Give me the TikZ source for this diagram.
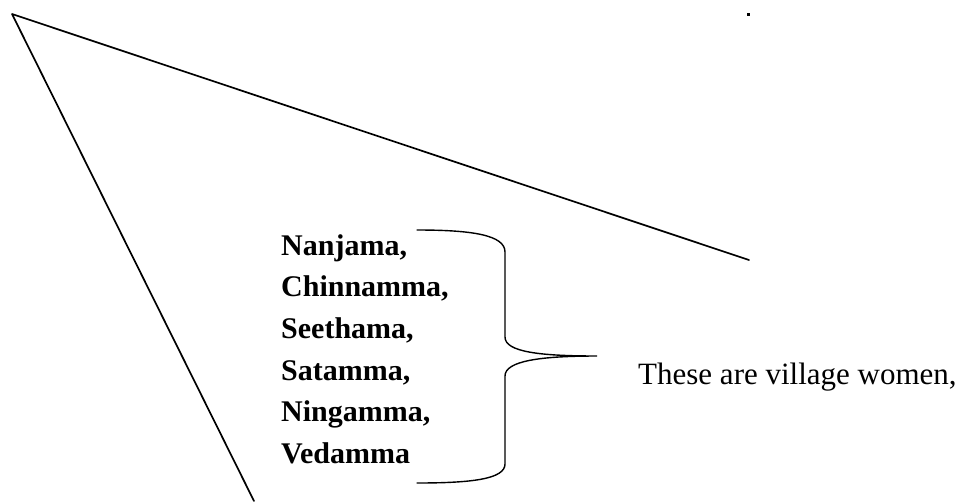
\documentclass[tikz,border=0pt]{standalone}
\usepackage{fontspec}
\setmainfont{Liberation Serif}
\begin{document}
\begin{tikzpicture}[x=1pt,y=-1pt,
  edge/.style={line width=1.7pt,line cap=round,line join=round},
  bracepath/.style={line width=1.4pt,line cap=round},
  namelabel/.style={anchor=base west,inner sep=0pt,font=\fontsize{30}{36}\selectfont\bfseries},
  notelabel/.style={anchor=base west,inner sep=0pt,font=\fontsize{31}{36}\selectfont}]
  \useasboundingbox[fill=white] (0,0) rectangle (968,501);

  % the two long strokes from the apex
  \coordinate (apex) at (12,14);
  \coordinate (rightend) at (749,260);
  \coordinate (lowend) at (254,501);
  \draw[edge] (rightend) -- (apex) -- (lowend);

  % small mark near the top
  \fill (747,13) rectangle (750,15.5);

  % list of names
  \node[namelabel] (n1) at (281,255) {Nanjama,};
  \node[namelabel] (n2) at (281,296) {Chinnamma,};
  \node[namelabel] (n3) at (281,338) {Seethama,};
  \node[namelabel] (n4) at (281,380) {Satamma,};
  \node[namelabel] (n5) at (281,421) {Ningamma,};
  \node[namelabel] (n6) at (281,463) {Vedamma};

  % curly brace grouping the names
  \coordinate (btop) at (417,230);
  \coordinate (btip) at (597,356);
  \coordinate (bbot) at (417,483);
  \draw[bracepath] (btop) .. controls (472,230) and (505,235) .. (505,252)
    -- (505,337) .. controls (505,352) and (540,356) .. (btip)
    .. controls (540,356) and (505,361) .. (505,376)
    -- (505,464) .. controls (505,479) and (472,483) .. (bbot);

  % note to the right of the brace
  \node[notelabel] (note) at (638,384) {These are village women,};
\end{tikzpicture}
\end{document}
